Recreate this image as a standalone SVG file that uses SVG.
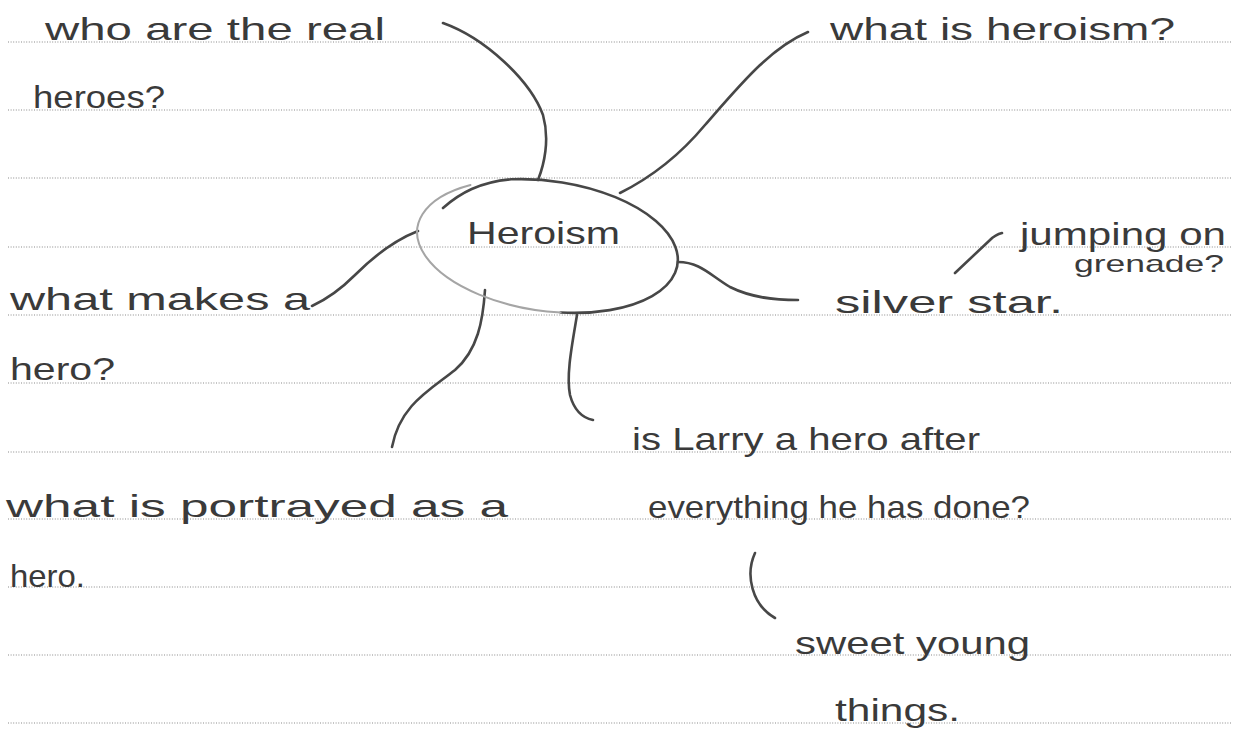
<svg xmlns="http://www.w3.org/2000/svg" width="1236" height="738" viewBox="0 0 1236 738">
<style>
.rule{stroke:#8a8a8a;stroke-width:1.2;stroke-dasharray:1 1.6}
.hw{font-family:"Liberation Sans","DejaVu Sans",sans-serif;font-size:32px;fill:#3a3a3a}
.sm{font-size:24px}
.ln{fill:none;stroke:#474747;stroke-width:2.6;stroke-linecap:round}
</style>
<rect width="1236" height="738" fill="#ffffff"/>
<g id="paper-lines">
<line class="rule" x1="8" y1="42" x2="1232" y2="42"/>
<line class="rule" x1="8" y1="110" x2="1232" y2="110"/>
<line class="rule" x1="8" y1="178" x2="1232" y2="178"/>
<line class="rule" x1="8" y1="247" x2="1232" y2="247"/>
<line class="rule" x1="8" y1="315" x2="1232" y2="315"/>
<line class="rule" x1="8" y1="383" x2="1232" y2="383"/>
<line class="rule" x1="8" y1="452" x2="1232" y2="452"/>
<line class="rule" x1="8" y1="519" x2="1232" y2="519"/>
<line class="rule" x1="8" y1="587" x2="1232" y2="587"/>
<line class="rule" x1="8" y1="655" x2="1232" y2="655"/>
<line class="rule" x1="8" y1="723" x2="1232" y2="723"/>
</g>
<g id="connectors">
<path class="ln" d="M443,23 C485,38 530,80 543,115 C550,140 544,165 538,180"/>
<path class="ln" d="M808,32 C770,48 740,85 705,125 C680,155 650,178 620,193"/>
<path class="ln" d="M418,231 C395,240 375,255 355,275 C340,290 325,300 312,306"/>
<path class="ln" d="M678,262 C700,262 710,275 730,287 C752,298 775,300 798,300"/>
<path class="ln" d="M485,290 C483,320 478,350 455,370 C430,390 400,405 392,447"/>
<path class="ln" d="M577,315 C572,345 566,375 570,395 C574,410 583,418 593,420"/>
<path class="ln" d="M955,273 L990,240 C994,236 998,234 1002,233"/>
<path class="ln" d="M755,553 C745,575 752,605 775,618"/>
</g>
<g id="center-node">
<path d="M443,208 C460,193 480,182 511.1,179.3 A131,65 8 1 1 560.6,312.5" fill="none" stroke="#474747" stroke-width="2.6" stroke-linecap="round"/>
<path d="M560.6,312.5 A131,65 8 0 1 470.5,185" fill="none" stroke="#a5a5a5" stroke-width="2" stroke-linecap="round"/>
<text class="hw" x="467" y="244" textLength="153" lengthAdjust="spacingAndGlyphs">Heroism</text>
</g>
<g id="node-real-heroes">
<text class="hw" x="45" y="40" textLength="340" lengthAdjust="spacingAndGlyphs">who are the real</text>
<text class="hw" x="33" y="108" textLength="132" lengthAdjust="spacingAndGlyphs">heroes?</text>
</g>
<g id="node-what-is-heroism">
<text class="hw" x="830" y="40" textLength="345" lengthAdjust="spacingAndGlyphs">what is heroism?</text>
</g>
<g id="node-makes-hero">
<text class="hw" x="10" y="310" textLength="300" lengthAdjust="spacingAndGlyphs">what makes a</text>
<text class="hw" x="10" y="380" textLength="105" lengthAdjust="spacingAndGlyphs">hero?</text>
</g>
<g id="node-silver-star">
<text class="hw" x="835" y="313" textLength="228" lengthAdjust="spacingAndGlyphs">silver star.</text>
</g>
<g id="node-grenade">
<text class="hw" x="1020" y="245" textLength="206" lengthAdjust="spacingAndGlyphs">jumping on</text>
<text class="hw sm" x="1074" y="272" textLength="150" lengthAdjust="spacingAndGlyphs">grenade?</text>
</g>
<g id="node-portrayed">
<text class="hw" x="6" y="517" textLength="502" lengthAdjust="spacingAndGlyphs">what is portrayed as a</text>
<text class="hw" x="10" y="587" textLength="75" lengthAdjust="spacingAndGlyphs">hero.</text>
</g>
<g id="node-larry">
<text class="hw" x="632" y="450" textLength="348" lengthAdjust="spacingAndGlyphs">is Larry a hero after</text>
<text class="hw" x="648" y="518" textLength="382" lengthAdjust="spacingAndGlyphs">everything he has done?</text>
</g>
<g id="node-sweet">
<text class="hw" x="795" y="654" textLength="235" lengthAdjust="spacingAndGlyphs">sweet young</text>
<text class="hw" x="835" y="721" textLength="125" lengthAdjust="spacingAndGlyphs">things.</text>
</g>
</svg>
